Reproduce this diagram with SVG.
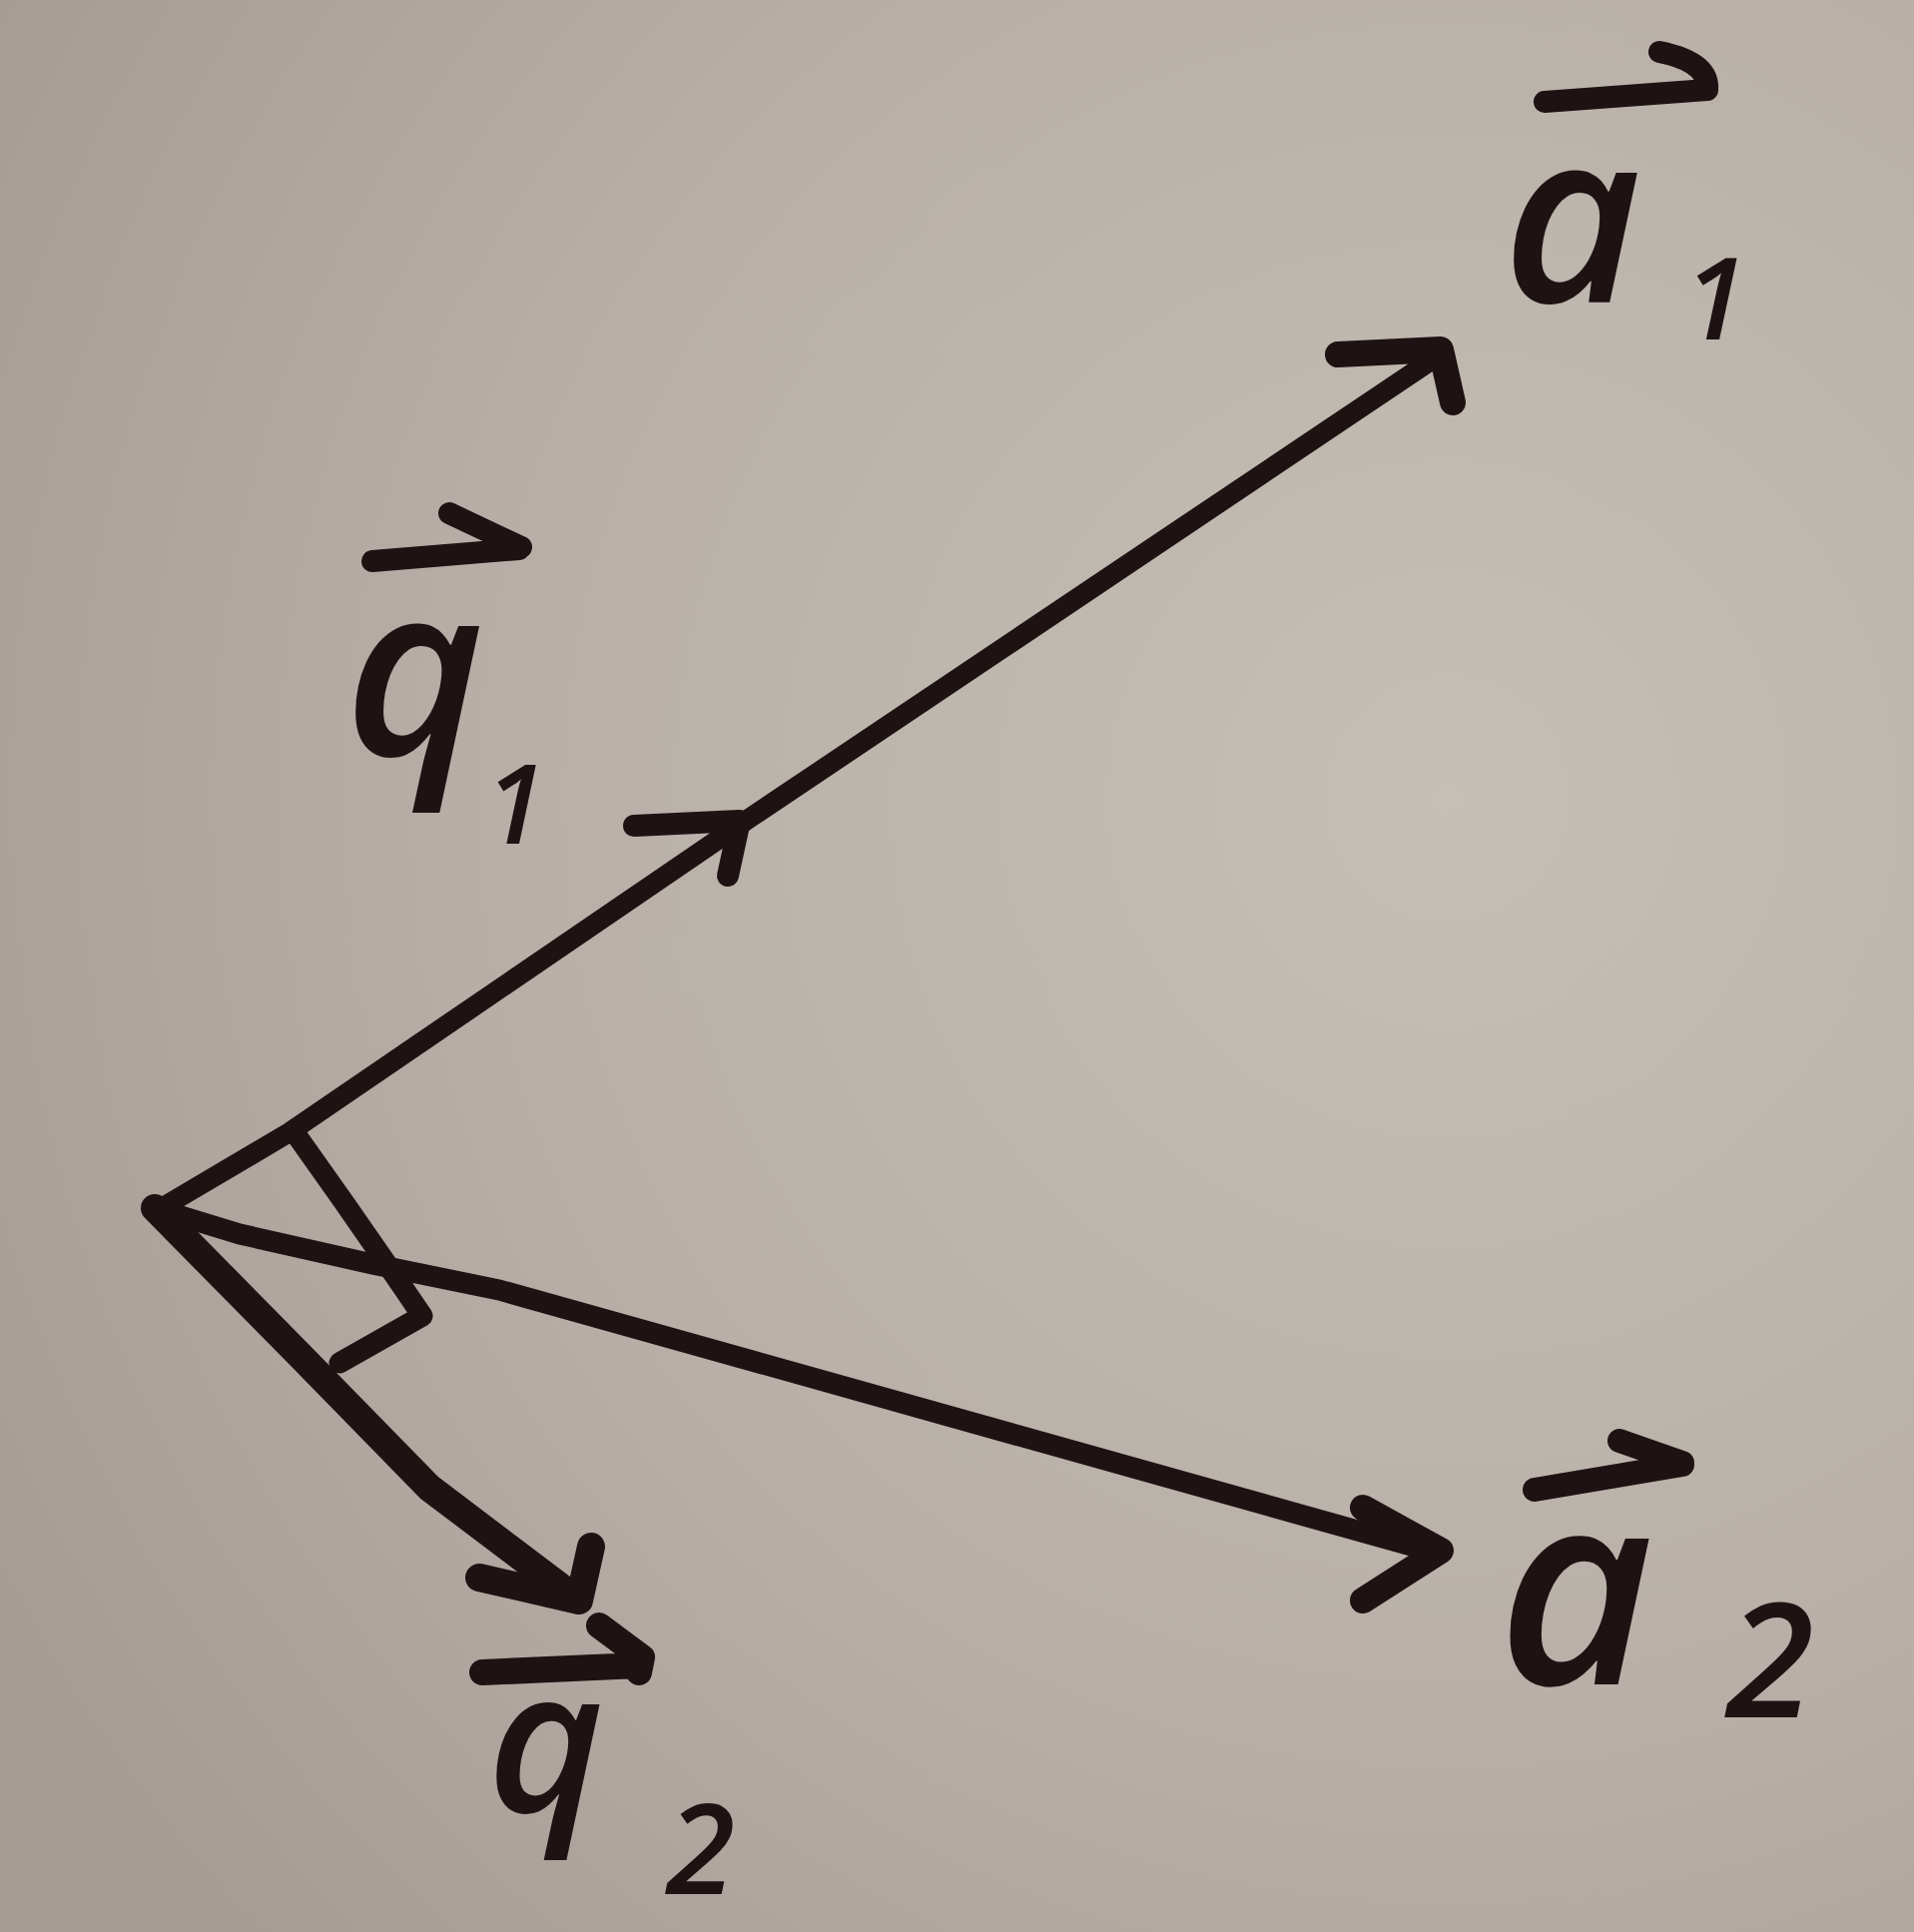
<svg xmlns="http://www.w3.org/2000/svg" width="1917" height="1935" viewBox="0 0 1917 1935">
<defs>
<radialGradient id="paper" cx="1450" cy="800" r="1700" gradientUnits="userSpaceOnUse">
<stop offset="0" stop-color="#c5bfb6"/>
<stop offset="0.55" stop-color="#b8b0a8"/>
<stop offset="1" stop-color="#a39b94"/>
</radialGradient>
<style>
.ink{fill:none;stroke:#1e1313;stroke-linecap:round;stroke-linejoin:round}
.lbl{font-family:"Open Sans","Noto Sans","DejaVu Sans",sans-serif;font-style:italic;font-weight:600;fill:#1e1313}
</style>
</defs>
<rect x="0" y="0" width="1917" height="1935" fill="url(#paper)"/>

<g id="connectors">
<g id="vector-a1">
<path class="ink" stroke-width="20" d="M158,1212 L290,1134 L741,826 L1432,362"/>
<path class="ink" stroke-width="26" d="M1340,355 L1443,350 L1455,403"/>
</g>
<g id="vector-q1">
<path class="ink" stroke-width="22" d="M635,827 L741,822 L729,877"/>
</g>
<g id="vector-a2">
<path class="ink" stroke-width="21" d="M155,1210 L240,1236 L373,1266 L500,1292 L1438,1555"/>
<path class="ink" stroke-width="26" d="M1365,1510 L1443,1553 L1365,1603"/>
</g>
<g id="vector-q2">
<path class="ink" stroke-width="28" d="M155,1210 L300,1357 L430,1490 L578,1602"/>
<path class="ink" stroke-width="28" d="M480,1580 L580,1603 M592,1549 L580,1603"/>
</g>
<g id="right-angle">
<path class="ink" stroke-width="21" d="M297,1137 Q362,1228 423,1318 L340,1365"/>
</g>
</g>

<g id="label-a1">
<path class="ink" stroke-width="22" d="M1547,102 L1710,90 M1662,52 Q1712,62 1710,90"/>
<text class="lbl" x="1505" y="303" font-size="240">a<tspan font-size="115" dx="42" dy="37">1</tspan></text>
</g>
<g id="label-q1">
<path class="ink" stroke-width="22" d="M373,562 L520,550 M450,514 L522,548"/>
<text class="lbl" x="345" y="757" font-size="240">q<tspan font-size="110" dx="0" dy="88">1</tspan></text>
</g>
<g id="label-a2">
<path class="ink" stroke-width="24" d="M1537,1492 L1685,1467 M1622,1443 L1685,1465"/>
<text class="lbl" x="1500" y="1687" font-size="270">a<tspan font-size="160" dx="72" dy="33">2</tspan></text>
</g>
<g id="label-q2">
<path class="ink" stroke-width="26" d="M483,1675 L640,1668 M600,1628 L643,1660 L640,1675"/>
<text class="lbl" x="488" y="1815" font-size="200">q<tspan font-size="125" dx="62" dy="82">2</tspan></text>
</g>
</svg>
